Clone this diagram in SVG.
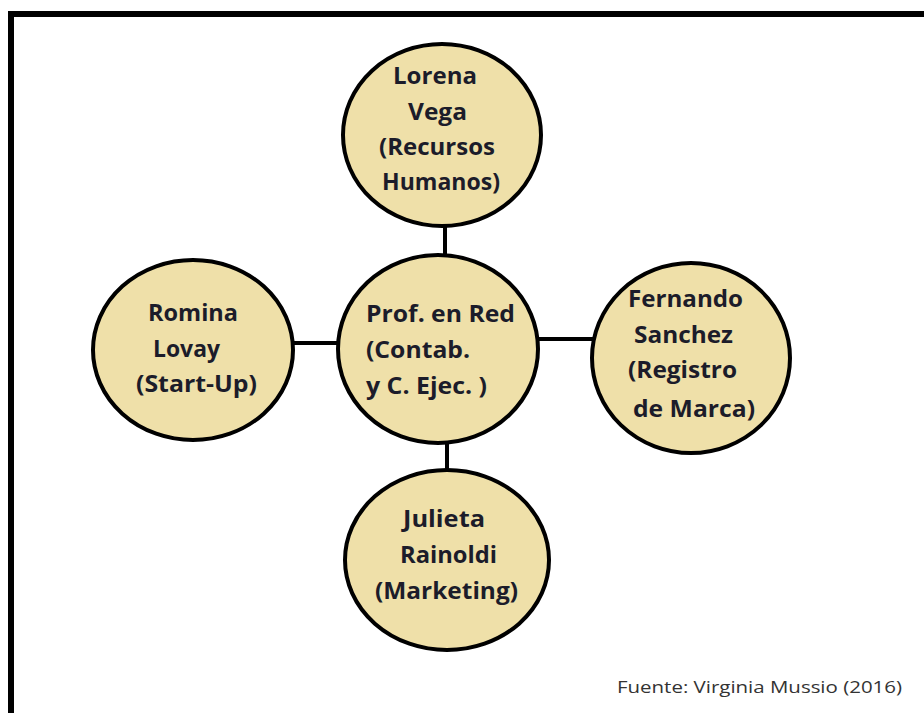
<svg xmlns="http://www.w3.org/2000/svg" width="924" height="713" viewBox="0 0 924 713">
<style>
.node ellipse{fill:#efe0a9;stroke:#000;stroke-width:4}
.node text{font-family:"Open Sans","Liberation Sans",sans-serif;font-weight:bold;font-size:23px;fill:#1c1c2a}
.conn line{stroke:#000;stroke-width:4}
.src{font-family:"Open Sans","Liberation Sans",sans-serif;font-size:16px;fill:#333}
</style>
<rect width="924" height="713" fill="#fff"/>
<path d="M11,713 V14 H924" fill="none" stroke="#000" stroke-width="6"/>
<g id="connectors" class="conn">
<line x1="445" y1="224" x2="445" y2="257"/>
<line x1="447" y1="441" x2="447" y2="472"/>
<line x1="291" y1="343" x2="340" y2="343"/>
<line x1="536" y1="339" x2="594" y2="339"/>
</g>
<g id="lorena" class="node">
<ellipse cx="442" cy="135" rx="99" ry="91"/>
<text x="393" y="84" textLength="84" lengthAdjust="spacingAndGlyphs">Lorena</text>
<text x="408" y="120" textLength="59" lengthAdjust="spacingAndGlyphs">Vega</text>
<text x="379" y="155" textLength="116" lengthAdjust="spacingAndGlyphs">(Recursos</text>
<text x="382" y="190" textLength="118" lengthAdjust="spacingAndGlyphs">Humanos)</text>
</g>
<g id="centro" class="node">
<ellipse cx="438" cy="349" rx="100" ry="94"/>
<text x="366" y="322" textLength="149" lengthAdjust="spacingAndGlyphs">Prof. en Red</text>
<text x="366" y="358" textLength="104" lengthAdjust="spacingAndGlyphs">(Contab.</text>
<text x="366" y="394" textLength="121" lengthAdjust="spacingAndGlyphs">y C. Ejec. )</text>
</g>
<g id="romina" class="node">
<ellipse cx="193" cy="350" rx="100" ry="90"/>
<text x="148" y="321" textLength="90" lengthAdjust="spacingAndGlyphs">Romina</text>
<text x="153" y="357" textLength="67" lengthAdjust="spacingAndGlyphs">Lovay</text>
<text x="136" y="392" textLength="121" lengthAdjust="spacingAndGlyphs">(Start-Up)</text>
</g>
<g id="fernando" class="node">
<ellipse cx="691" cy="358" rx="99" ry="95"/>
<text x="628" y="307" textLength="115" lengthAdjust="spacingAndGlyphs">Fernando</text>
<text x="634" y="343" textLength="99" lengthAdjust="spacingAndGlyphs">Sanchez</text>
<text x="628" y="378" textLength="109" lengthAdjust="spacingAndGlyphs">(Registro</text>
<text x="633" y="417" textLength="122" lengthAdjust="spacingAndGlyphs">de Marca)</text>
</g>
<g id="julieta" class="node">
<ellipse cx="447" cy="560" rx="102" ry="90"/>
<text x="403" y="527" textLength="82" lengthAdjust="spacingAndGlyphs">Julieta</text>
<text x="400" y="563" textLength="97" lengthAdjust="spacingAndGlyphs">Rainoldi</text>
<text x="375" y="599" textLength="143" lengthAdjust="spacingAndGlyphs">(Marketing)</text>
</g>
<text class="src" x="617" y="693" textLength="285" lengthAdjust="spacingAndGlyphs">Fuente: Virginia Mussio (2016)</text>
</svg>
